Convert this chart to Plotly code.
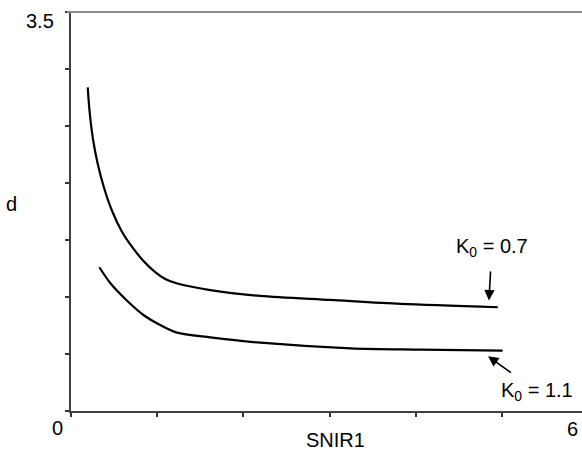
import plotly.graph_objects as go

# Data
snir_k07 = [0.194, 0.215, 0.253, 0.308, 0.384, 0.477, 0.593, 0.709, 0.841, 0.977, 1.093, 1.233, 1.616, 2.198, 3.012, 3.826, 4.953]
d_k07 = [2.839, 2.632, 2.395, 2.175, 1.956, 1.754, 1.570, 1.439, 1.316, 1.219, 1.158, 1.118, 1.061, 1.009, 0.974, 0.939, 0.910]

snir_k11 = [0.329, 0.453, 0.648, 0.841, 1.035, 1.229, 1.616, 2.198, 3.244, 4.058, 5.008]
d_k11 = [1.261, 1.125, 0.969, 0.842, 0.754, 0.687, 0.646, 0.599, 0.550, 0.539, 0.529]

x_ticks = [0, 1, 2, 3, 4, 5]
y_ticks = [0, 0.5, 1.0, 1.5, 2.0, 2.5, 3.0, 3.5]
label_k07 = "K<sub>0</sub> = 0.7"
label_k11 = "K<sub>0</sub> = 1.1"

FONT = "Liberation Sans, Arial, sans-serif"
FS = 20

fig = go.Figure()
for xs, ys, name in [(snir_k07, d_k07, label_k07), (snir_k11, d_k11, label_k11)]:
    fig.add_trace(go.Scatter(x=xs, y=ys, mode="lines", name=name,
                             line=dict(color="black", width=2.2, shape="spline", smoothing=0.8),
                             showlegend=False, hoverinfo="skip"))

fig.update_layout(
    width=582, height=450,
    margin=dict(l=71, r=0, t=12, b=39),
    paper_bgcolor="white", plot_bgcolor="white",
    font=dict(family=FONT, size=FS, color="black"),
    xaxis=dict(range=[0, 5.93], tickvals=x_ticks, showticklabels=False,
               ticks="outside", ticklen=4, tickwidth=1.5, tickcolor="#333333",
               showline=True, linecolor="#404040", linewidth=2,
               showgrid=False, zeroline=False, fixedrange=True),
    yaxis=dict(range=[0, 3.5], tickvals=y_ticks, showticklabels=False,
               ticks="outside", ticklen=4, tickwidth=1.5, tickcolor="#333333",
               showline=True, linecolor="#404040", linewidth=2,
               showgrid=False, zeroline=False, fixedrange=True),
)

# top border line (grey)
fig.add_shape(type="line", xref="paper", yref="paper", x0=-0.008, x1=1, y0=1, y1=1,
              line=dict(color="#8a8a8a", width=2))

ann = []
ann.append(dict(text="0", xref="paper", yref="paper", x=-0.027, y=-0.042, showarrow=False,
                xanchor="center", yanchor="middle"))
ann.append(dict(text="6", xref="paper", yref="paper", x=0.982, y=-0.045, showarrow=False,
                xanchor="center", yanchor="middle"))
ann.append(dict(text="3.5", xref="paper", yref="paper", x=-0.061, y=0.977, showarrow=False,
                xanchor="center", yanchor="middle"))
ann.append(dict(text="SNIR1", xref="paper", yref="paper", x=0.518, y=-0.072, showarrow=False,
                xanchor="center", yanchor="middle"))
ann.append(dict(text="d", xref="paper", yref="paper", x=-0.117, y=0.519, showarrow=False,
                xanchor="center", yanchor="middle"))
# curve labels with arrows
ann.append(dict(text=label_k07, x=4.85, y=0.97, ax=3, ay=-53, showarrow=True,
                arrowhead=2, arrowsize=1.3, arrowwidth=1.6, arrowcolor="black",
                startstandoff=10))
ann.append(dict(text=label_k11, x=4.84, y=0.48, ax=49, ay=35, showarrow=True,
                arrowhead=2, arrowsize=1.3, arrowwidth=1.6, arrowcolor="black",
                startstandoff=8))
fig.update_layout(annotations=ann)

fig.write_html("out.html", config={"displayModeBar": False},
               post_script="document.body.style.margin='0';")
